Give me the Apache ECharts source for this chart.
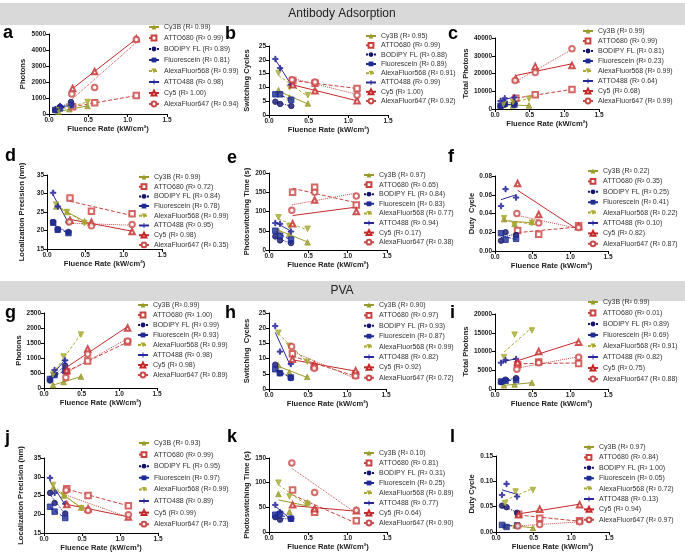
<!DOCTYPE html>
<html lang="en">
<head>
  <meta charset="UTF-8">
  <title>Fluence rate panels</title>
  <script src="https://cdn.jsdelivr.net/npm/echarts@6/dist/echarts.min.js"></script>
  <style>
    html, body { margin: 0; background: #fff; }
    #main { width: 685px; height: 554px; }
  </style>
</head>
<body>
  <div id="main"></div>
  <script type="text/javascript">
    // dyes in legend order
    var dyes = ['Cy3B', 'ATTO680', 'BODIPY FL', 'Fluorescein', 'AlexaFluor568', 'ATTO488', 'Cy5', 'AlexaFluor647'];
    // fluence rate (kW/cm2) of each dye's three points
    var fluence = [
      [0.12, 0.26, 0.49], [0.30, 0.58, 1.11], [0.08, 0.14, 0.28], [0.08, 0.14, 0.28],
      [0.12, 0.26, 0.49], [0.08, 0.14, 0.28], [0.30, 0.58, 1.11], [0.29, 0.58, 1.11]
    ];

    // Antibody adsorption
    var photonsAb = [[150, 300, 500], [450, 700, 1150], [250, 450, 750], [250, 350, 550], [250, 450, 750], [300, 500, 550], [1600, 2650, 4700], [1250, 1650, 4650]];
    var cyclesAb = [[9, 6.3, 4.2], [12.5, 11.5, 9.6], [4.8, 4, 3.3], [7.5, 7.5, 5.5], [15.2, 10, 7.2], [20.3, 17, 11], [11, 8.8, 5.2], [12.8, 12, 7.2]];
    var totalAb = [[2500, 2000, 2000], [6000, 8000, 11000], [1500, 2500, 3000], [1800, 3000, 2500], [2800, 4000, 5800], [4500, 6000, 6500], [17000, 24000, 24500], [16000, 20500, 34000]];
    var precisionAb = [[26.5, 25, 22.5], [28.8, 25.2, 24.5], [22.3, 20.3, 19.6], [22.1, 20.2, 19.3], [27, 25, 22], [30.2, 26.5, 22.3], [22.8, 22.2, 19.7], [22.3, 21.3, 21.6]];
    var timeAb = [[50, 42, 20], [150, 163, 117], [35, 25, 18], [50, 37, 27], [85, 62, 55], [70, 68, 48], [68, 130, 100], [103, 150, 140]];
    var dutyAb = [[0.034, 0.029, 0.031], [0.022, 0.018, 0.027], [0.011, 0.020, 0.017], [0.019, 0.012, 0.013], [0.035, 0.028, 0.030], [0.048, 0.066, 0.057], [0.072, 0.039, 0.026], [0.040, 0.030, 0.025]];

    // PVA
    var photonsPva = [[100, 200, 380], [550, 900, 1530], [250, 450, 750], [300, 430, 580], [450, 1050, 1780], [300, 600, 920], [600, 1300, 2000], [350, 1130, 1570]];
    var cyclesPva = [[7.8, 5.5, 4], [11.6, 7.3, 4.6], [8, 5.2, 3.6], [6.5, 5.2, 3.8], [18.5, 14.2, 9], [20.7, 12.3, 8.2], [9.8, 8, 6], [14, 6.8, 4.3]];
    var totalPva = [[1000, 1200, 1700], [6500, 7200, 6800], [1800, 2500, 2900], [2000, 2200, 2400], [8500, 14500, 15600], [7000, 7700, 8000], [7100, 10000, 12500], [5300, 7000, 8500]];
    var precisionPva = [[27, 25, 21.8], [26.8, 25, 22.3], [25.7, 23, 20.2], [22, 20.7, 19], [27.8, 25, 21.6], [29.7, 25.7, 22.8], [22.6, 21.5, 19.3], [26.4, 21, 19.9]];
    var timePva = [[77, 41, 60], [85, 40, 23], [30, 25, 27], [35, 37, 27], [100, 72, 57], [55, 40, 27], [55, 47, 43], [140, 80, 44]];
    var dutyPva = [[0.013, 0.013, 0.008], [0.035, 0.027, 0.022], [0.052, 0.049, 0.038], [0.014, 0.010, 0.013], [0.057, 0.080, 0.083], [0.073, 0.095, 0.070], [0.034, 0.045, 0.054], [0.012, 0.015, 0.020]];

    // R squared shown in each legend
    var r2a = ['0.99', '0.99', '0.89', '0.81', '0.99', '0.98', '1.00', '0.94'];
    var r2b = ['0.95', '0.99', '0.88', '0.89', '0.91', '0.99', '1.00', '0.92'];
    var r2c = ['0.99', '0.99', '0.81', '0.23', '0.99', '0.64', '0.68', '0.99'];
    var r2d = ['0.99', '0.72', '0.84', '0.78', '0.99', '0.95', '0.98', '0.35'];
    var r2e = ['0.97', '0.65', '0.84', '0.83', '0.77', '0.94', '0.17', '0.38'];
    var r2f = ['0.22', '0.35', '0.25', '0.41', '0.22', '0.10', '0.82', '0.87'];
    var r2g = ['0.99', '1.00', '0.99', '0.93', '0.99', '0.98', '0.98', '0.89'];
    var r2h = ['0.90', '0.97', '0.93', '0.87', '0.99', '0.82', '0.92', '0.72'];
    var r2i = ['0.99', '0.01', '0.89', '0.69', '0.91', '0.82', '0.75', '0.88'];
    var r2j = ['0.93', '0.99', '0.95', '0.97', '0.99', '0.89', '0.99', '0.73'];
    var r2k = ['0.10', '0.81', '0.31', '0.25', '0.89', '0.77', '0.64', '0.90'];
    var r2l = ['0.97', '0.84', '1.00', '0.05', '0.72', '0.13', '0.94', '0.97'];

    // dye styles
    var colors = ['#9a9a2c', '#c9423e', '#15156c', '#1e2c92', '#a9a933', '#28289c', '#c42828', '#c94a4a'];
    var symbols = ['triangle', 'emptyRect', 'circle', 'rect', 'triangle',
      'path://M4,0h2v4h4v2h-4v4h-2v-4h-4v-2h4z', 'emptyTriangle', 'emptyCircle'];
    var rotates = [0, 0, 0, 0, 180, 0, 0, 0];
    var lineTypes = ['solid', 'dashed', 'dotted', [4, 2], [3, 2], 'solid', 'solid', 'dotted'];

    // g: grid [left, top, width, height]; lg: legend [left, top, gap]; yg: y name gap; lt: letter pos
    var panels = [
      { key: 'a', data: photonsAb, r2: r2a, name: 'Photons', min: 0, max: 5000, step: 1000, dec: 0, g: [49, 34, 118, 80], lg: [148, 23, 3], yg: 22, lt: [3, 33] },
      { key: 'b', data: cyclesAb, r2: r2b, name: 'Switching Cycles', min: 0, max: 25, step: 5, dec: 0, g: [269, 46, 119, 69], lg: [365, 32, 1.3], yg: 18, lt: [225, 34] },
      { key: 'c', data: totalAb, r2: r2c, name: 'Total Photons', min: 0, max: 40000, step: 10000, dec: 0, g: [495, 38, 104, 71], lg: [582, 27, 2], yg: 19, lt: [448, 34] },
      { key: 'd', data: precisionAb, r2: r2d, name: 'Localization Precision (nm)', min: 15, max: 35, step: 5, dec: 0, g: [47, 175, 115, 74], lg: [138, 173, 1.7], yg: 21, lt: [5, 156] },
      { key: 'e', data: timeAb, r2: r2e, name: 'Photoswitching Time (s)', min: 0, max: 200, step: 50, dec: 0, g: [269, 173, 118, 77], lg: [363, 171, 1.6], yg: 18, lt: [227, 158] },
      { key: 'f', data: dutyAb, r2: r2f, name: 'Duty  Cycle', min: 0, max: 0.08, step: 0.02, dec: 2, g: [495, 176, 113, 75], lg: [587, 167, 2.4], yg: 18, lt: [448, 157] },
      { key: 'g', data: photonsPva, r2: r2g, name: 'Photons', min: 0, max: 2500, step: 500, dec: 0, g: [44, 313, 113, 75], lg: [137, 301, 2], yg: 18, lt: [5, 313] },
      { key: 'h', data: cyclesPva, r2: r2h, name: 'Switching  Cycles', min: 0, max: 25, step: 5, dec: 0, g: [269, 313, 117, 76], lg: [363, 301, 2.4], yg: 18, lt: [225, 313] },
      { key: 'i', data: totalPva, r2: r2i, name: 'Total Photons', min: 0, max: 20000, step: 5000, dec: 0, g: [495, 314, 113, 75], lg: [587, 298, 3], yg: 21, lt: [450, 313] },
      { key: 'j', data: precisionPva, r2: r2j, name: 'Localization Precision (nm)', min: 15, max: 35, step: 5, dec: 0, g: [44, 458, 114, 75], lg: [138, 439, 3.6], yg: 19, lt: [5, 438] },
      { key: 'k', data: timePva, r2: r2k, name: 'Photoswitching Time (s)', min: 0, max: 150, step: 50, dec: 0, g: [269, 458, 118, 74], lg: [363, 449, 2], yg: 18, lt: [227, 437] },
      { key: 'l', data: dutyPva, r2: r2l, name: 'Duty Cycle', min: 0, max: 0.15, step: 0.05, dec: 2, g: [496, 456, 113, 76], lg: [583, 443, 2.4], yg: 20, lt: [450, 437] }
    ];

    // least squares line across the dye's fluence range
    function fitLine(xs, ys) {
      var n = xs.length, mx = 0, my = 0, sxy = 0, sxx = 0;
      for (var i = 0; i < n; i++) { mx += xs[i] / n; my += ys[i] / n; }
      for (var j = 0; j < n; j++) { sxy += (xs[j] - mx) * (ys[j] - my); sxx += (xs[j] - mx) * (xs[j] - mx); }
      var b = sxy / sxx;
      return [[xs[0], my + b * (xs[0] - mx)], [xs[n - 1], my + b * (xs[n - 1] - mx)]];
    }

    var font = '"Liberation Sans", Arial, sans-serif';
    var nameStyle = { fontWeight: 'bold', fontSize: 7.6, color: '#222' };
    var tickStyle = { fontSize: 6.5, fontWeight: 'bold', color: '#222', margin: 3 };

    var option = {
      animation: false,
      textStyle: { fontFamily: font },
      grid: [], xAxis: [], yAxis: [], series: [], legend: [],
      graphic: [
        { type: 'rect', shape: { x: 0, y: 3, width: 685, height: 22 }, style: { fill: '#d9d9d9' } },
        { type: 'text', x: 342, y: 14, style: { text: 'Antibody Adsorption', font: '12px ' + font, fill: '#222', textAlign: 'center', textVerticalAlign: 'middle' } },
        { type: 'rect', shape: { x: 0, y: 281, width: 685, height: 20 }, style: { fill: '#d9d9d9' } },
        { type: 'text', x: 342, y: 291, style: { text: 'PVA', font: '12px ' + font, fill: '#222', textAlign: 'center', textVerticalAlign: 'middle' } }
      ]
    };

    panels.forEach(function (p, i) {
      option.grid.push({ left: p.g[0], top: p.g[1], width: p.g[2], height: p.g[3] });
      option.xAxis.push({
        type: 'value', gridIndex: i, min: 0, max: 1.5, interval: 0.5,
        name: 'Fluence Rate (kW/cm²)', nameLocation: 'middle', nameGap: 11,
        nameTextStyle: nameStyle,
        axisLine: { lineStyle: { color: '#000', width: 1 } },
        axisTick: { length: 3, lineStyle: { color: '#000' } },
        axisLabel: Object.assign({ formatter: function (v) { return v.toFixed(1); } }, tickStyle),
        splitLine: { show: false }
      });
      option.yAxis.push({
        type: 'value', gridIndex: i, min: p.min, max: p.max, interval: p.step,
        name: p.name, nameLocation: 'middle', nameGap: p.yg,
        nameTextStyle: nameStyle,
        axisLine: { show: true, lineStyle: { color: '#000', width: 1 } },
        axisTick: { show: true, length: 3, lineStyle: { color: '#000' } },
        axisLabel: Object.assign({ formatter: function (v) { return v.toFixed(p.dec); } }, tickStyle),
        splitLine: { show: false }
      });
      var names = [];
      dyes.forEach(function (d, k) {
        var label = d + ' (R² ' + p.r2[k] + ')';
        names.push(label);
        var xs = fluence[k], ys = p.data[k];
        option.series.push({
          type: 'line', name: label, xAxisIndex: i, yAxisIndex: i,
          data: fitLine(xs, ys), showSymbol: false, silent: true,
          symbol: symbols[k], symbolRotate: rotates[k], symbolSize: 5,
          lineStyle: { color: colors[k], width: 1, type: lineTypes[k] },
          itemStyle: { color: colors[k] }, z: 2
        });
        option.series.push({
          type: 'scatter', name: d + ' ' + p.key, xAxisIndex: i, yAxisIndex: i,
          data: xs.map(function (x, j) { return [x, ys[j]]; }),
          symbol: symbols[k], symbolRotate: rotates[k], symbolSize: 5.5,
          itemStyle: { color: colors[k], borderColor: colors[k] }, z: 3
        });
      });
      option.legend.push({
        data: names, orient: 'vertical', left: p.lg[0], top: p.lg[1], padding: 0,
        itemWidth: 10, itemHeight: 6, itemGap: p.lg[2], selectedMode: false,
        textStyle: { fontSize: 7, color: '#333', lineHeight: 8 }
      });
      option.graphic.push({
        type: 'text', x: p.lt[0], y: p.lt[1],
        style: { text: p.key, font: 'bold 18px ' + font, fill: '#000', textVerticalAlign: 'middle' }
      });
    });

    var myChart = echarts.init(document.getElementById('main'));
    myChart.setOption(option);
  </script>
</body>
</html>
